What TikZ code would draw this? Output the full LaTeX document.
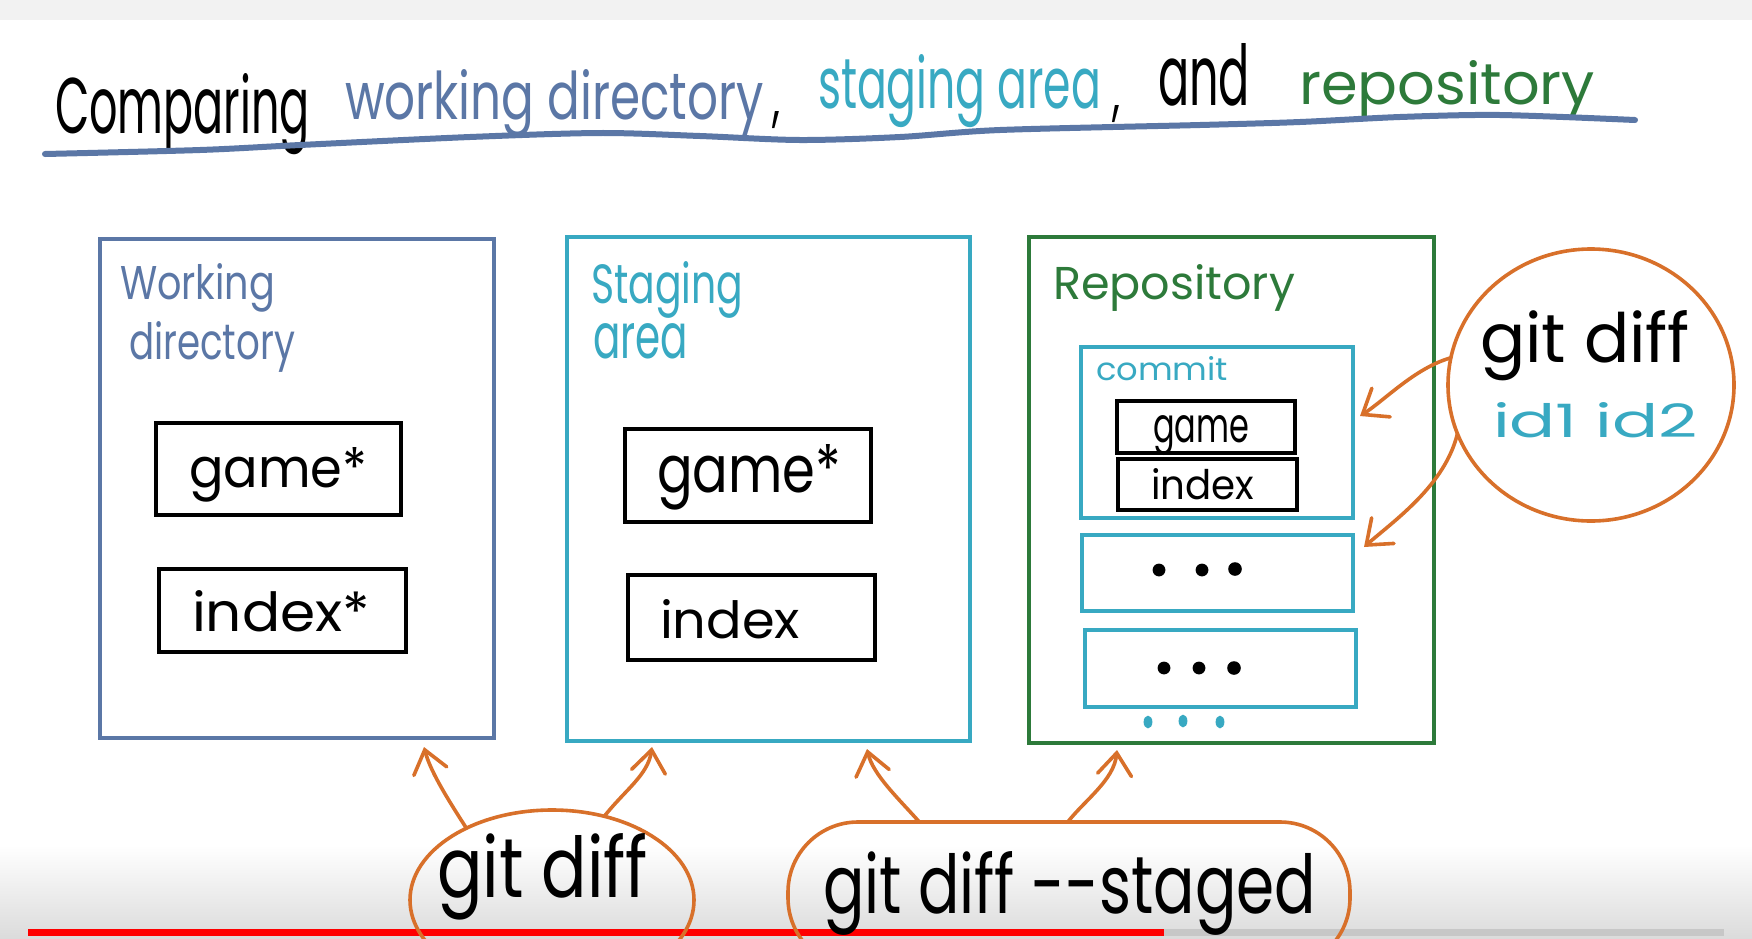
\documentclass[tikz,border=0pt]{standalone}
\usepackage{fontspec}
\usetikzlibrary{arrows.meta,shapes.geometric,fit,calc}
\newfontfamily\hand[FakeStretch=0.8]{Poppins}
\definecolor{gblue}{HTML}{5B77A6}
\definecolor{gteal}{HTML}{38A9C2}
\definecolor{ggreen}{HTML}{2D7A3A}
\definecolor{gorange}{HTML}{D8702A}
\definecolor{ytred}{HTML}{FF0000}
\newlength\pxu \setlength\pxu{0.5pt}
\newcommand\fw[3]{\resizebox{#1\pxu}{#2\pxu}{\hand #3}}
\begin{document}
\begin{tikzpicture}[x=0.5pt,y=-0.5pt,
  txt/.style={inner sep=0pt,outer sep=0pt,anchor=base west},
  bigbox/.style={draw,line width=1.6pt,inner sep=0pt,outer sep=0pt},
  filebox/.style={draw=black,line width=2pt,inner sep=0pt,outer sep=0pt},
  cbox/.style={draw=gteal,line width=1.6pt,inner sep=0pt,outer sep=0pt},
  oline/.style={draw=gorange,line width=1.8pt,inner sep=0pt,outer sep=0pt},
  oarrow/.style={draw=gorange,line width=1.8pt,line cap=round,-{Straight Barb[length=11pt,width=17pt,line cap=round]}}
]
\useasboundingbox (0,0) rectangle (1752,938);
\clip (0,0) rectangle (1752,938);
% background
\fill[white] (0,0) rectangle (1752,938);
\fill[black!5] (0,0) rectangle (1752,20);
\shade[top color=white,bottom color=black!14] (0,845) rectangle (1752,938);
\fill[black!22] (1164,929) rectangle (1724,936);
\fill[ytred] (28,929) rectangle (1164,936);

% title
\node[txt] (t1) at (55,133) {\color{black}\fw{255}{60}{Comparing}};
\node[txt] (t2) at (345,119) {\color{gblue}\fw{419}{50}{working directory}};
\node[txt] (t2c) at (772,119) {\color{black}\fw{8}{8}{,}};
\node[txt] (t3) at (818,108) {\color{gteal}\fw{283}{54}{staging area}};
\node[txt] (t3c) at (1112,113) {\color{black}\fw{8}{8}{,}};
\node[txt] (t4) at (1158,105) {\color{black}\fw{92}{62}{and}};
\node[txt] (t5) at (1299,104) {\color{ggreen}\fw{296}{44}{repository}};
\draw[gblue,line width=3pt,line cap=round] plot[smooth] coordinates {(45,154) (200,150) (300,145) (470,137) (600,133) (700,136) (800,140) (900,137) (1000,130) (1200,125) (1300,122) (1400,117) (1500,115) (1635,120)};

% main boxes
\node[bigbox,draw=gblue,fit={(100,239) (494,738)}] (wd) {};
\node[bigbox,draw=gteal,fit={(567,237) (970,741)}] (sa) {};
\node[bigbox,draw=ggreen,fit={(1029,237) (1434,743)}] (repo) {};

\node[txt] (wdl1) at (120,299) {\color{gblue}\fw{155}{36}{Working}};
\node[txt] (wdl2) at (129,359) {\color{gblue}\fw{166}{38}{directory}};
\node[txt] (sal1) at (591,303) {\color{gteal}\fw{152}{42}{Staging}};
\node[txt] (sal2) at (593,358) {\color{gteal}\fw{95}{35}{area}};
\node[txt] (repl) at (1053,299) {\color{ggreen}\fw{242}{35}{Repository}};

% working directory files
\node[filebox,fit={(156,423) (401,515)}] (wdg) {};
\node[txt] (wdgt) at (189,487) {\fw{178}{40}{game*}};
\node[filebox,fit={(159,569) (406,652)}] (wdi) {};
\node[txt] (wdit) at (192,631) {\fw{178}{41}{index*}};

% staging files
\node[filebox,fit={(625,429) (871,522)}] (sag) {};
\node[txt] (sagt) at (657,492) {\fw{184}{48}{game*}};
\node[filebox,fit={(628,575) (875,660)}] (sai) {};
\node[txt] (sait) at (660,638) {\fw{140}{39}{index}};

% repository commits
\node[cbox,fit={(1081,347) (1353,518)}] (c1) {};
\node[txt] (c1t) at (1096,380) {\color{gteal}\fw{132}{24}{commit}};
\node[filebox,fit={(1117,401) (1295,453)}] (rg) {};
\node[txt] (rgt) at (1153,442) {\fw{96}{27}{game}};
\node[filebox,fit={(1118,459) (1297,510)}] (ri) {};
\node[txt] (rit) at (1151,499) {\fw{103}{31}{index}};
\node[cbox,fit={(1082,535) (1353,611)}] (c2) {};
\node[cbox,fit={(1085,630) (1356,707)}] (c3) {};
\fill (1159,570) circle (3.2pt) (1202,570) circle (3.2pt) (1235,569) circle (3.4pt);
\fill (1164,668) circle (3.2pt) (1199,668) circle (3.2pt) (1234,668) circle (3.4pt);
\fill[gteal] (1148,722) ellipse [x radius=2.2pt,y radius=3.2pt]
  (1183,721) ellipse [x radius=2.2pt,y radius=3.2pt]
  (1220,722) ellipse [x radius=2.2pt,y radius=3.2pt];

% right circle
\node[oline,ellipse,minimum width=286\pxu,minimum height=272\pxu] (gdc) at (1591,385) {};
\node[txt] (gdct) at (1480,362) {\fw{210}{52}{git diff}};
\node[txt] (gdci) at (1493,437) {\color{gteal}\fw{205}{35}{id1 id2}};
\coordinate (ct1) at (1360,416);
\coordinate (ct2) at (1364,547);
\draw[oarrow] (gdc.169) .. controls (1415,368) and (1385,400) .. (ct1);
\draw[oarrow] (gdc.200) .. controls (1445,485) and (1395,520) .. (ct2);

% bottom ellipses
\node[oline,ellipse,minimum width=284\pxu,minimum height=180\pxu] (gd) at (552,900) {};
\node[txt] (gdt) at (437,897) {\fw{211}{64}{git diff}};
\node[oline,rectangle,rounded corners=35pt,minimum width=562\pxu,minimum height=146\pxu] (gds) at (1069,895) {};
\node[txt] (gdst) at (823,913) {\fw{493}{62}{git diff --staged}};
\coordinate (b1) at (424,747);
\coordinate (b2) at (652,747);
\coordinate (b3) at (867,749);
\coordinate (b4) at (1117,750);
\draw[oarrow] (gd.140) .. controls (445,795) and (430,770) .. (b1);
\draw[oarrow] (gd.58) .. controls (625,790) and (648,775) .. (b2);
\draw[oarrow] (gds.154) .. controls (900,800) and (873,775) .. (b3);
\draw[oarrow] (gds.91) .. controls (1085,800) and (1114,780) .. (b4);
\end{tikzpicture}
\end{document}
